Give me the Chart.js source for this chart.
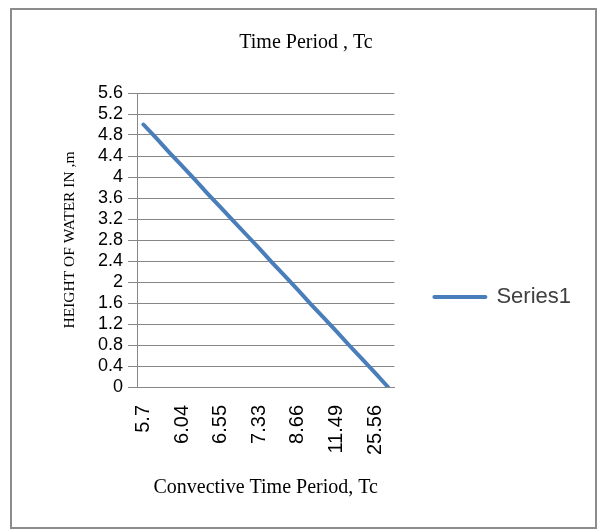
<!DOCTYPE html>
<html>
<head>
<meta charset="utf-8">
<script src="https://cdn.jsdelivr.net/npm/chart.js@4/dist/chart.umd.min.js"></script>
<style>
  html, body { margin: 0; padding: 0; background: #fff; }
  #wrap { position: relative; width: 599px; height: 530px; }
</style>
</head>
<body>
<div id="wrap"><canvas id="c" width="599" height="530"></canvas></div>
<script>
// Convective time period Tc shown under every third point
const tcLabels = ['5.7', '6.04', '6.55', '7.33', '8.66', '11.49', '25.56'];
const labelEvery = 3;

// Height of water (m) for each point, top to bottom
const heights = [5.0, 4.74, 4.47, 4.21, 3.95, 3.68, 3.42, 3.16, 2.9, 2.64,
                 2.37, 2.11, 1.85, 1.58, 1.32, 1.06, 0.79, 0.53, 0.27, 0.0];

// Value axis range
const yMin = 0;
const yMax = 5.6;
const yStep = 0.4;

const seriesName = 'Series1';
const chartTitle = 'Time Period , Tc';
const xTitle = 'Convective Time Period, Tc';
const yTitle = 'HEIGHT OF WATER IN ,m';

const categories = heights.map((_, i) =>
  i % labelEvery === 0 ? (tcLabels[i / labelEvery] || '') : '');

const GRID = '#868686';

// white page with a thin grey frame round the chart
const frame = {
  id: 'frame',
  beforeDraw(chart) {
    const ctx = chart.ctx;
    ctx.save();
    ctx.fillStyle = '#fff';
    ctx.fillRect(0, 0, chart.width, chart.height);
    ctx.strokeStyle = '#8c8c8c';
    ctx.lineWidth = 2;
    ctx.strokeRect(11, 9, 585, 519);
    ctx.restore();
  }
};

// drop the legend a little below the vertical centre
const legendNudge = {
  id: 'legendNudge',
  afterLayout(chart, args, opts) {
    const lg = chart.legend;
    if (!lg) return;
    lg.top += opts.dy;
    lg.bottom += opts.dy;
  }
};

new Chart(document.getElementById('c'), {
  type: 'line',
  data: {
    labels: categories,
    datasets: [{
      label: seriesName,
      data: heights,
      borderColor: '#4a7ebb',
      backgroundColor: '#4a7ebb',
      borderWidth: 4,
      borderCapStyle: 'round',
      borderJoinStyle: 'round',
      pointRadius: 0,
      tension: 0,
      fill: false
    }]
  },
  options: {
    responsive: false,
    animation: false,
    events: [],
    layout: { padding: { left: 31, right: 18, top: 22, bottom: 30 } },
    plugins: {
      title: {
        display: true,
        text: chartTitle,
        color: '#000',
        font: { family: 'Liberation Serif', size: 20, weight: 'normal', lineHeight: 1.1 },
        padding: { top: 10, bottom: 39 }
      },
      legend: {
        position: 'right',
        align: 'center',
        maxWidth: 240,
        labels: {
          boxWidth: 51,
          boxHeight: 0,
          padding: 40,
          color: '#404040',
          font: { family: 'Liberation Sans', size: 22 }
        }
      },
      legendNudge: { dy: 36 },
      tooltip: { enabled: false }
    },
    scales: {
      x: {
        offset: true,
        grid: { display: false, drawTicks: false },
        border: { color: GRID, width: 1 },
        ticks: {
          autoSkip: false,
          minRotation: 90,
          maxRotation: 90,
          padding: 18,
          color: '#000',
          font: { family: 'Liberation Sans', size: 20 }
        },
        title: {
          display: true,
          text: xTitle,
          color: '#000',
          font: { family: 'Liberation Serif', size: 20 },
          padding: { top: 4, bottom: 0 }
        },
        afterFit(scale) { scale.height = 113; }
      },
      y: {
        min: yMin,
        max: yMax,
        ticks: {
          stepSize: yStep,
          autoSkip: false,
          padding: 5,
          color: '#000',
          font: { family: 'Liberation Sans', size: 18, lineHeight: 1 },
          callback: (v) => String(Math.round(v * 10) / 10)
        },
        grid: { color: GRID, lineWidth: 1, tickLength: 9 },
        border: { color: GRID, width: 1 },
        title: {
          display: true,
          text: yTitle,
          color: '#000',
          font: { family: 'Liberation Serif', size: 15.5 },
          padding: { top: 30, bottom: 4 }
        },
        afterFit(scale) { scale.width = 106; }
      }
    }
  },
  plugins: [frame, legendNudge]
});
</script>
</body>
</html>
